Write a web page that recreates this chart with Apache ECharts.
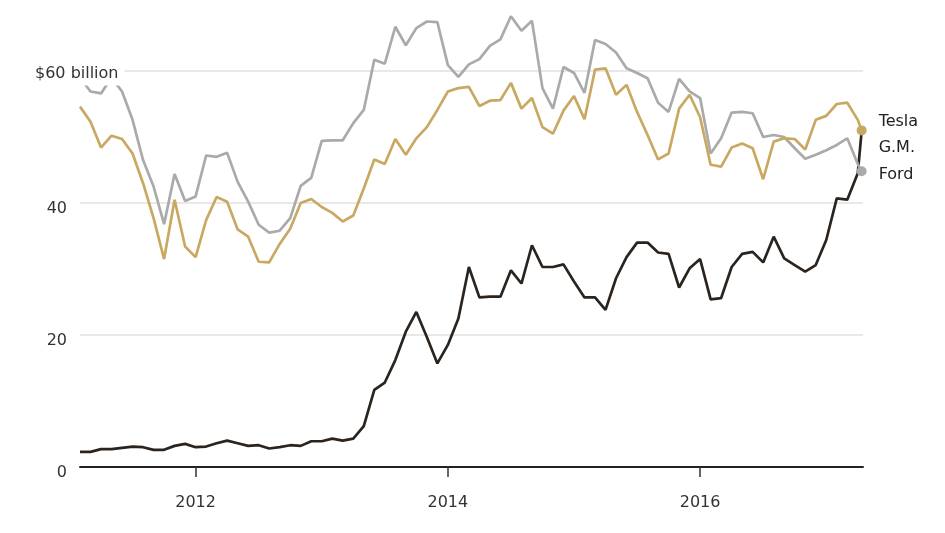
<!DOCTYPE html>
<html><head><meta charset="utf-8">
<script src="https://cdn.jsdelivr.net/npm/echarts@6/dist/echarts.min.js"></script>
<style>html,body{margin:0;padding:0;background:#fff}#c{width:945px;height:533px}</style>
</head><body><div id="c"></div>
<script>
const dates = [
 "2011-02","2011-03","2011-04","2011-05","2011-06","2011-07","2011-08","2011-09","2011-10","2011-11","2011-12",
 "2012-01","2012-02","2012-03","2012-04","2012-05","2012-06","2012-07","2012-08","2012-09","2012-10","2012-11","2012-12",
 "2013-01","2013-02","2013-03","2013-04","2013-05","2013-06","2013-07","2013-08","2013-09","2013-10","2013-11","2013-12",
 "2014-01","2014-02","2014-03","2014-04","2014-05","2014-06","2014-07","2014-08","2014-09","2014-10","2014-11","2014-12",
 "2015-01","2015-02","2015-03","2015-04","2015-05","2015-06","2015-07","2015-08","2015-09","2015-10","2015-11","2015-12",
 "2016-01","2016-02","2016-03","2016-04","2016-05","2016-06","2016-07","2016-08","2016-09","2016-10","2016-11","2016-12",
 "2017-01","2017-02","2017-03","2017-04","2017-04-12"
];
const ford = [59.0,56.9,56.6,59.0,56.9,52.6,46.5,42.5,36.8,44.4,
 40.3,41.0,47.2,47.0,47.6,43.2,40.2,36.7,35.5,35.8,
 37.7,42.6,43.8,49.4,49.5,49.5,52.1,54.1,61.7,61.1,
 66.7,63.9,66.5,67.5,67.4,60.9,59.1,61.0,61.8,63.8,
 64.8,68.3,66.1,67.6,57.4,54.3,60.6,59.7,56.7,64.7,
 64.1,62.8,60.4,59.7,58.9,55.2,53.8,58.8,56.9,55.9,
 47.5,49.8,53.7,53.8,53.6,50.0,50.3,50.0,48.3,46.7,
 47.3,48.0,48.8,49.8,45.9,44.8];
const gm = [54.6,52.3,48.4,50.2,49.7,47.5,43.0,37.7,31.5,40.5,
 33.4,31.8,37.4,40.9,40.2,36.0,34.9,31.1,31.0,33.8,
 36.1,40.0,40.6,39.4,38.5,37.2,38.1,42.2,46.6,45.9,
 49.7,47.3,49.8,51.5,54.1,56.9,57.4,57.6,54.7,55.5,
 55.6,58.2,54.3,55.9,51.5,50.5,54.0,56.2,52.7,60.2,
 60.4,56.4,57.9,53.8,50.3,46.6,47.5,54.3,56.4,53.0,
 45.8,45.5,48.4,49.0,48.3,43.6,49.3,49.8,49.7,48.1,
 52.6,53.2,55.0,55.2,52.6,51.0];
const tesla = [2.3,2.3,2.7,2.7,2.9,3.1,3.0,2.6,2.6,3.2,
 3.5,3.0,3.1,3.6,4.0,3.6,3.2,3.3,2.8,3.0,
 3.3,3.2,3.9,3.9,4.3,4.0,4.3,6.2,11.7,12.8,
 16.2,20.5,23.5,19.7,15.7,18.5,22.5,30.3,25.7,25.8,
 25.8,29.8,27.8,33.6,30.3,30.3,30.7,28.1,25.7,25.7,
 23.8,28.6,31.8,34.0,34.0,32.5,32.3,27.2,30.1,31.5,
 25.4,25.6,30.3,32.3,32.6,31.0,34.9,31.6,30.6,29.6,
 30.6,34.4,40.7,40.5,44.5,50.9];
const xTickDates = ["2012-01","2014-01","2016-01"];
const yMin = 0, yMax = 60, yStep = 20;

const FONT = "DejaVu Sans";
function toX(s){ const p = s.split('-').map(Number); return (p[0]-2011)*12 + (p[1]-1) + ((p[2]||1)-1)/30; }
function fromX(x){ return String(2011 + Math.floor(x/12)); }
function mk(vals, dot){
  return vals.map((v,i)=>{
    const it = {value:[toX(dates[i]), v]};
    if (dot && i === vals.length-1){ it.symbol = 'circle'; it.symbolSize = 10; }
    return it;
  });
}
const xMin = toX(dates[0]);
const xMax = toX(dates[dates.length-1]) + 0.13;
const tickVals = xTickDates.map(toX);

function line(name, vals, color, dot, dy){
  return {
    name, type:'line', data: mk(vals, dot), symbol:'none', clip:false, z:2,
    lineStyle:{color, width:2.7}, itemStyle:{color},
    emphasis:{disabled:true},
    endLabel:{show:true, formatter: name, distance:17, offset:[0,dy],
      fontFamily:FONT, fontSize:16, color:'#222'}
  };
}

const chart = echarts.init(document.getElementById('c'));
chart.setOption({
  animation:false,
  grid:{left:80, right:82, top:71, bottom:66},
  xAxis:[
    {type:'value', min:xMin, max:xMax, axisLine:{show:true, onZero:false, lineStyle:{color:'#222', width:2}},
     axisTick:{show:false}, axisLabel:{show:false}, splitLine:{show:false}},
    {type:'value', min:xMin, max:xMax, position:'bottom', offset:6,
     axisLine:{show:false},
     axisTick:{show:true, length:10, customValues:tickVals, lineStyle:{color:'#333', width:1.5}},
     axisLabel:{show:true, customValues:tickVals, formatter:fromX, margin:22,
       fontFamily:FONT, fontSize:16, color:'#333'},
     splitLine:{show:false}}
  ],
  yAxis:[
    {type:'value', min:yMin, max:yMax, interval:yStep, axisLine:{show:false}, axisTick:{show:false},
     axisLabel:{show:false}, splitLine:{show:true, lineStyle:{color:'#e0e0e0', width:1.5}}},
    {type:'value', min:yMin, max:yMax, interval:yStep, position:'left', offset:0,
     axisLine:{show:false}, axisTick:{show:false}, splitLine:{show:false},
     axisLabel:{formatter:v=> v===yMax ? '' : '{n|' + v + '}', align:'right', margin:13,
       rich:{n:{padding:[12,0,0,0], fontFamily:FONT, fontSize:16, color:'#333'}}}},
    {type:'value', min:yMin, max:yMax, interval:yStep, position:'left', offset:0, z:20, zlevel:1,
     axisLine:{show:false}, axisTick:{show:false}, splitLine:{show:false},
     axisLabel:{formatter:v=> v===yMax ? '{t|$' + v + ' billion}' : '', align:'left', margin:45,
       rich:{t:{backgroundColor:'#fff', padding:[9,6,4,0], fontFamily:FONT, fontSize:16, color:'#333'}}}}
  ],
  series:[
    line('Tesla', tesla, '#2b241e', false, -9),
    line('Ford', ford, '#aaaaaa', true, 4),
    line('G.M.', gm, '#c9a862', true, 17)
  ]
});
</script>
</body></html>
